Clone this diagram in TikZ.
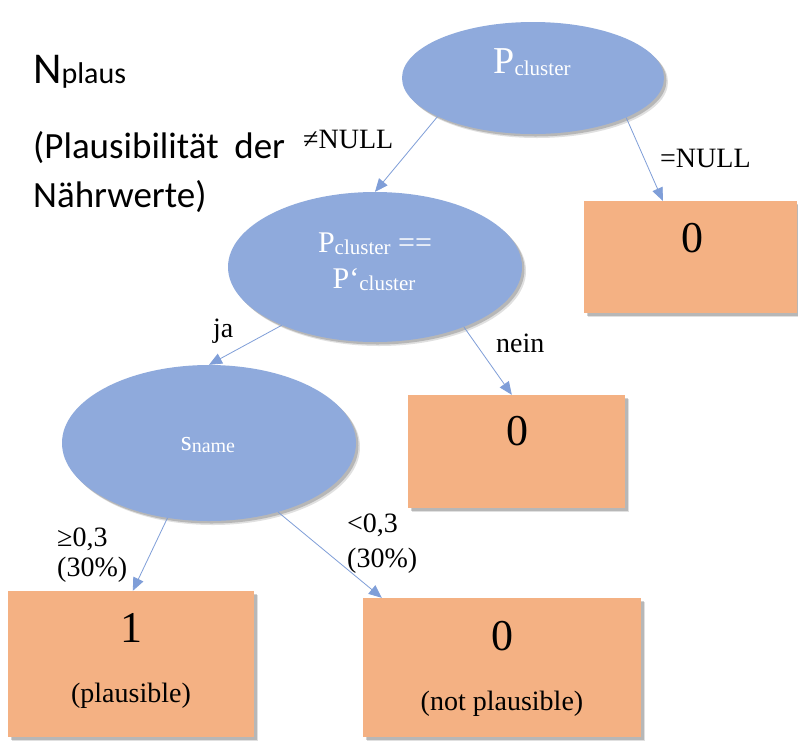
\documentclass[tikz,border=0pt]{standalone}
\usepackage{fontspec}
\setmainfont{Liberation Serif}
\newfontfamily\carlfont{Carlito}
\usetikzlibrary{shapes.geometric,arrows.meta,shadows,calc}
\definecolor{ellblue}{HTML}{8FAADC}
\definecolor{boxorange}{HTML}{F4B183}
\definecolor{lineblue}{HTML}{7F9ED8}
\newcommand\fsz[1]{\fontsize{#1}{#1}\selectfont}
\tikzset{
  softshadow/.style={
    drop shadow={shadow xshift=4pt, shadow yshift=-4pt, opacity=0.12, fill=black},
    drop shadow={shadow xshift=2.5pt, shadow yshift=-2.5pt, opacity=0.18, fill=black}},
  decision/.style={ellipse, fill=ellblue, draw=none, inner sep=0pt, softshadow},
  leaf/.style={rectangle, fill=boxorange, draw=none, inner sep=0pt, softshadow},
  conn/.style={draw=lineblue, line width=0.8pt, -{Triangle[length=13pt,width=11pt]}},
  lbl/.style={font=\fsz{28}, inner sep=0pt, anchor=base west},
  etext/.style={text=white, inner sep=0pt, anchor=base},
  btext/.style={inner sep=0pt, anchor=base},
  ttext/.style={inner sep=0pt, anchor=base west},
}
\begin{document}
\begin{tikzpicture}[x=1pt,y=-1pt]
\useasboundingbox (0,0) rectangle (798,740);
\fill[white] (0,0) rectangle (798,740);

% title
\node[ttext] (title) at (33,83) {\carlfont\fsz{44}N\fsz{30}plaus};
\node[ttext] (sub1) at (33,158) {\carlfont\fsz{37}\makebox[252pt][s]{(Plausibilität der}};
\node[ttext] (sub2) at (33,207) {\carlfont\fsz{37}Nährwerte)};

% decision ellipses
\node[decision, minimum width=262pt, minimum height=112pt] (e1) at (533,78) {};
\node[decision, minimum width=294pt, minimum height=150pt] (e2) at (375,267) {};
\node[decision, minimum width=294pt, minimum height=156pt] (e3) at (209,443) {};

\node[etext] (t1) at (532,73) {\fsz{38}P\raisebox{-2pt}{\fsz{21}cluster}};
\node[etext] (t2a) at (375,252) {\fsz{30}P\raisebox{-2pt}{\fsz{21}cluster} ==};
\node[etext] (t2b) at (374,288) {\fsz{30}P‘\raisebox{-2pt}{\fsz{21}cluster}};
\node[etext] (t3) at (208,450) {\fsz{28}s\raisebox{-2pt}{\fsz{20}name}};

% leaf boxes
\node[leaf, minimum width=213pt, minimum height=112pt] (b1) at (690.5,257) {};
\node[leaf, minimum width=217pt, minimum height=113pt] (b2) at (516.5,451.5) {};
\node[leaf, minimum width=246pt, minimum height=146pt] (b3) at (131,664) {};
\node[leaf, minimum width=278pt, minimum height=139pt] (b4) at (502,667.5) {};

\node[btext] (v1) at (692,252) {\fsz{44}0};
\node[btext] (v2) at (517,445) {\fsz{44}0};
\node[btext] (v3) at (131,642) {\fsz{44}1};
\node[btext] (v3t) at (131,702) {\fsz{28}(plausible)};
\node[btext] (v4) at (502,650) {\fsz{44}0};
\node[btext] (v4t) at (502,710) {\fsz{28}(not plausible)};

% connectors
\draw[conn] (e1.202) -- (e2.north);
\draw[conn] (e1.337) -- ($(b1.north west)+(79,0)$);
\draw[conn] (e2.212) -- (e3.north);
\draw[conn] (e2.326) -- ($(b2.north west)+(104,0)$);
\draw[conn] (e3.241) -- ($(b3.north west)+(125,0)$);
\draw[conn] (e3.315) -- ($(b4.north west)+(19,0)$);

% edge labels
\node[lbl] (l1) at (303,148) {≠NULL};
\node[lbl] (l2) at (660,167) {=NULL};
\node[lbl] (l3) at (213,337) {ja};
\node[lbl] (l4) at (496,352) {nein};
\node[lbl] (l5a) at (57,546) {≥0,3};
\node[lbl] (l5b) at (57,576) {(30\%)};
\node[lbl] (l6a) at (347,532) {<0,3};
\node[lbl] (l6b) at (347,567) {(30\%)};
\end{tikzpicture}
\end{document}
